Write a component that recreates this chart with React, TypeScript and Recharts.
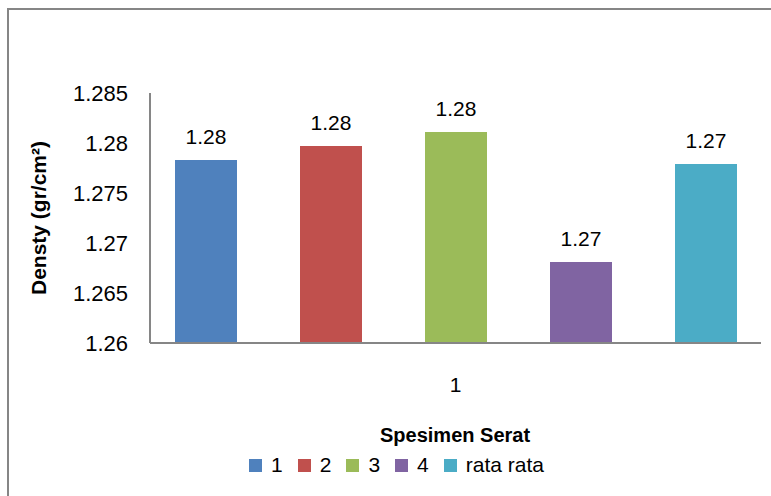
import * as React from 'react'
import { Bar, BarChart, LabelList, XAxis, YAxis } from 'recharts'

const categories = ['1']
const seriesNames = ['1', '2', '3', '4', 'rata rata']
const densityValues = [1.2783, 1.2797, 1.2811, 1.2681, 1.2779]
const labelTexts = ['1.28', '1.28', '1.28', '1.27', '1.27']
const seriesColors = ['#4F81BD', '#C0504D', '#9BBB59', '#8064A2', '#4BACC6']
const yTicks = [1.26, 1.265, 1.27, 1.275, 1.28, 1.285]

const FONT = '"Liberation Sans", Arial, sans-serif'
const AXIS_GREY = '#868686'

const data = categories.map((name) => {
  const row: Record<string, string | number> = { name }
  densityValues.forEach((v, i) => {
    row[`s${i}`] = v
  })
  return row
})

function YTitle(props: any) {
  const vb = props.viewBox || { x: 0, y: 93, height: 250 }
  const cx = 38
  const cy = vb.y + vb.height / 2
  return (
    <text
      x={cx}
      y={cy}
      transform={`rotate(-90 ${cx} ${cy})`}
      textAnchor="middle"
      dominantBaseline="central"
      fontFamily={FONT}
      fontSize={21}
      fontWeight="bold"
      fill="#000"
    >
      Densty (gr/cm²)
    </text>
  )
}

export default function App() {
  return (
    <div
      style={{
        position: 'fixed',
        left: 0,
        top: 0,
        width: 771,
        height: 496,
        overflow: 'hidden',
        background: '#fff',
        fontFamily: FONT,
      }}
    >
      {/* chart area frame, runs past the right and bottom edges */}
      <div
        style={{
          position: 'absolute',
          left: 7,
          top: 8,
          width: 800,
          height: 520,
          border: `2px solid ${AXIS_GREY}`,
        }}
      />

      <div style={{ position: 'absolute', left: 0, top: 0 }}>
        <BarChart
          width={771}
          height={496}
          data={data}
          margin={{ top: 93, right: 10, bottom: 113, left: 0 }}
          barSize={62}
          barGap={63}
        >
          <XAxis
            dataKey="name"
            height={40}
            tickSize={0}
            tickMargin={34}
            axisLine={{ stroke: AXIS_GREY, strokeWidth: 2 }}
            tick={{ fontSize: 21, fill: '#000', fontFamily: FONT }}
          />
          <YAxis
            width={150}
            domain={[1.26, 1.285]}
            ticks={yTicks}
            allowDataOverflow
            tickSize={0}
            tickMargin={22}
            axisLine={{ stroke: AXIS_GREY, strokeWidth: 2 }}
            tick={{ fontSize: 22, fill: '#000', fontFamily: FONT }}
            tickFormatter={(v: number) => String(Number(v.toFixed(3)))}
            label={{ content: (p: any) => <YTitle {...p} /> }}
          />
          {seriesNames.map((name, i) => (
            <Bar
              key={name}
              dataKey={`s${i}`}
              name={name}
              fill={seriesColors[i]}
              isAnimationActive={false}
            >
              <LabelList
                dataKey={`s${i}`}
                position="top"
                offset={16}
                formatter={() => labelTexts[i]}
                style={{ fontSize: 21, fill: '#000', fontFamily: FONT }}
              />
            </Bar>
          ))}
        </BarChart>
      </div>

      {/* axis title and legend under the plot */}
      <div
        style={{
          position: 'absolute',
          left: 0,
          top: 423,
          width: 771,
          textAlign: 'center',
        }}
      >
        <div
          style={{
            position: 'absolute',
            left: 380,
            top: 0,
            fontSize: 20,
            fontWeight: 'bold',
            whiteSpace: 'nowrap',
            lineHeight: '24px',
          }}
        >
          Spesimen Serat
        </div>
        <div
          style={{
            position: 'absolute',
            left: 249,
            top: 30,
            display: 'flex',
            alignItems: 'center',
            gap: 15,
            fontSize: 21,
            lineHeight: '24px',
            whiteSpace: 'nowrap',
          }}
        >
          {seriesNames.map((name, i) => (
            <div key={name} style={{ display: 'flex', alignItems: 'center' }}>
              <span
                style={{
                  display: 'inline-block',
                  width: 13,
                  height: 13,
                  marginRight: 9,
                  background: seriesColors[i],
                }}
              />
              <span>{name}</span>
            </div>
          ))}
        </div>
      </div>
    </div>
  )
}
